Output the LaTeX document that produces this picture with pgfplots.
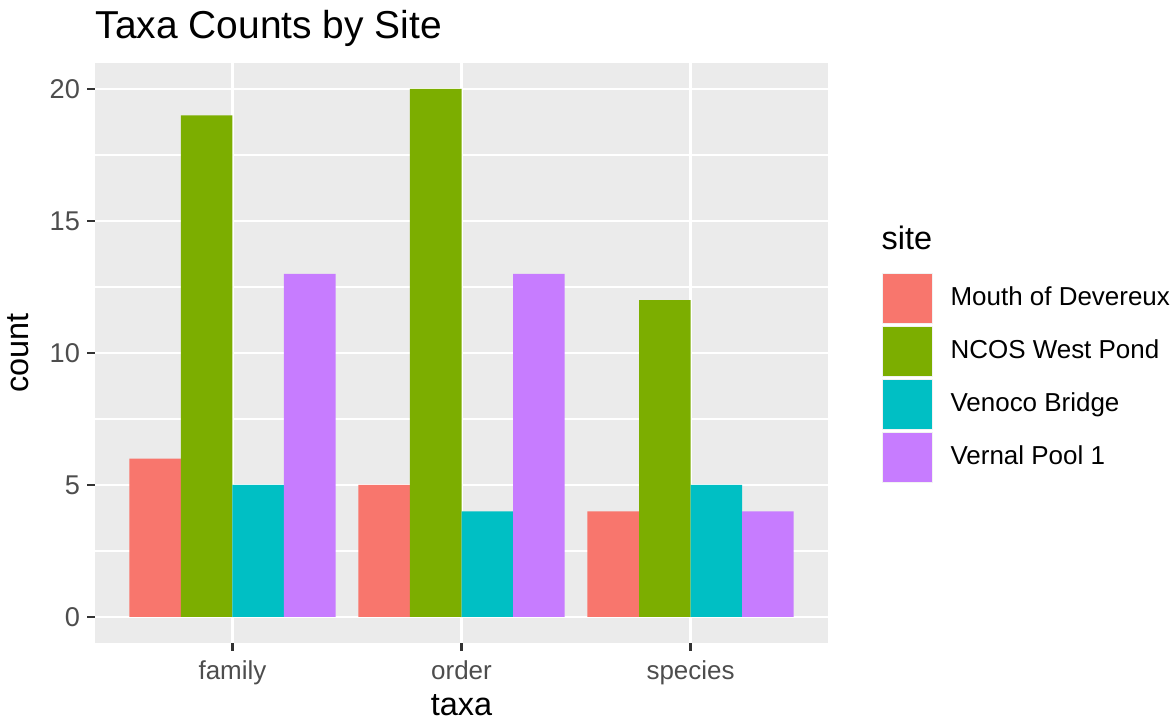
\documentclass[border=0pt]{standalone}
\usepackage{fontspec}
\setmainfont{Liberation Sans}
\usepackage{pgfplots}
\pgfplotsset{compat=1.18}
\newlength\px \setlength\px{0.339pt}
\definecolor{c1}{HTML}{F8766D}
\definecolor{c2}{HTML}{7CAE00}
\definecolor{c3}{HTML}{00BFC4}
\definecolor{c4}{HTML}{C77CFF}
\definecolor{panel}{HTML}{EBEBEB}
\definecolor{keybg}{HTML}{F2F2F2}
\definecolor{grey30}{HTML}{4D4D4D}
\definecolor{grey20}{HTML}{333333}
\begin{document}
\begin{tikzpicture}
\useasboundingbox (-95\px,-80\px) rectangle (1080\px,643\px);
\begin{axis}[
  at={(0,0)}, anchor=south west,
  scale only axis, width=733\px, height=580\px,
  xmin=-0.6, xmax=2.6, ymin=-0.985, ymax=20.985,
  clip=false,
  axis background/.style={fill=panel},
  axis line style={draw=none},
  xtick={0,1,2}, xticklabels={family,order,species},
  ytick={0,5,10,15,20}, minor ytick={2.5,7.5,12.5,17.5},
  xtick pos=lower, ytick pos=left,
  tick align=outside, major tick length=8\px, minor tick length=0pt,
  tick style={grey20, line width=1pt},
  xmajorgrids, ymajorgrids, yminorgrids,
  major grid style={white, line width=0.75pt},
  minor grid style={white, line width=0.38pt},
  /pgf/number format/assume math mode=true,
  tick label style={font=\fontsize{8.8pt}{10pt}\selectfont, text=grey30},
  yticklabel style={inner sep=0pt, xshift=-6.5\px, font=\fontsize{9.2pt}{10pt}\selectfont},
  xticklabel style={inner sep=0pt, yshift=-9\px},
  xlabel={taxa}, ylabel={count},
  label style={font=\fontsize{11pt}{13pt}\selectfont},
  ylabel style={at={(axis description cs:-0.105,0.5)}, anchor=center},
  xlabel style={at={(axis description cs:0.5,-0.107)}, anchor=center},
  ybar=0pt, bar width=0.225,
  legend style={at={(axis description cs:1.0723,0.6397)}, anchor=north west,
    draw=none, fill=none, inner sep=0pt, row sep=2\px, column sep=18\px,
    nodes={inner sep=0pt, font=\fontsize{8.8pt}{10pt}\selectfont},
    legend cell align=left},
  legend image code/.code={%
    \fill[keybg] (0pt,-25.5\px) rectangle (51\px,25.5\px);
    \fill[#1, draw=none] (1\px,-24.5\px) rectangle (50\px,24.5\px);},
]
\addplot[fill=c1, draw=none, bar shift=-0.3375] coordinates {(0,6) (1,5) (2,4)};
\addlegendentry{Mouth of Devereux}
\addplot[fill=c2, draw=none, bar shift=-0.1125] coordinates {(0,19) (1,20) (2,12)};
\addlegendentry{NCOS West Pond}
\addplot[fill=c3, draw=none, bar shift=0.1125] coordinates {(0,5) (1,4) (2,5)};
\addlegendentry{Venoco Bridge}
\addplot[fill=c4, draw=none, bar shift=0.3375] coordinates {(0,13) (1,13) (2,4)};
\addlegendentry{Vernal Pool 1}
\node[anchor=base west, inner sep=0pt, font=\fontsize{11pt}{13pt}\selectfont] at (axis description cs:1.0723,0.6776) {site};
\node[anchor=base west, inner sep=0pt, font=\fontsize{13.2pt}{15pt}\selectfont] at (axis description cs:0,1.043) {Taxa Counts by Site};
\end{axis}
\end{tikzpicture}
\end{document}
